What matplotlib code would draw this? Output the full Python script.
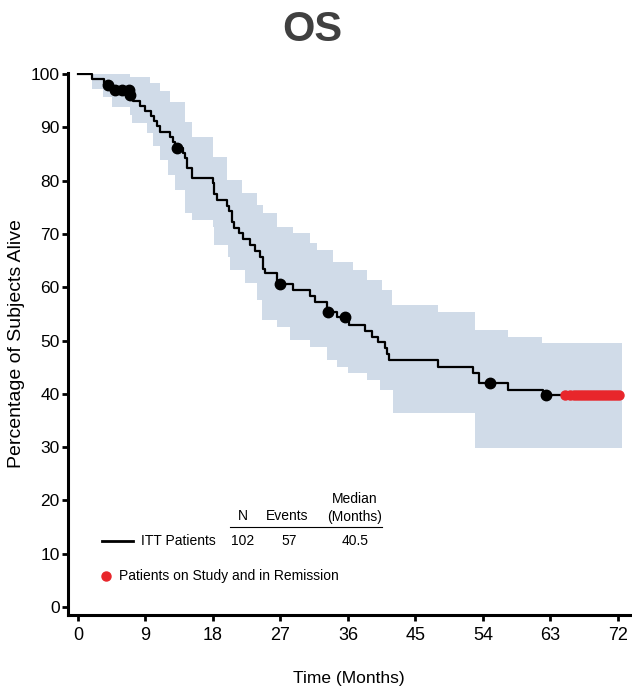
import matplotlib
matplotlib.use("Agg")
import matplotlib.pyplot as plt
import numpy as np

plt.rcParams['font.family'] = ['Liberation Sans', 'DejaVu Sans']

# Kaplan-Meier curve (step, post)
km_t = [0, 1.9, 3.5, 4.5, 6.6, 7.3, 8.3, 9.0, 9.7, 10.2, 10.5, 10.9, 12.3, 12.7, 13.0,
        14.0, 14.3, 14.6, 15.2, 18.0, 18.2, 18.5, 19.9, 20.2, 20.5, 20.8, 21.5, 22.0,
        23.0, 23.6, 24.3, 24.7, 25.0, 26.6, 28.7, 31.0, 31.6, 33.2, 34.6, 36.2, 38.3,
        39.2, 40.0, 40.9, 41.2, 41.5, 48.0, 52.7, 53.5, 57.3, 62.0, 72.4]
km_s = [100, 99.0, 98.0, 97.0, 96.0, 95.0, 94.1, 93.1, 92.2, 91.2, 90.2, 89.2, 88.2, 87.2, 86.2,
        85.2, 84.2, 82.3, 80.5, 79.5, 77.5, 76.4, 75.3, 74.3, 72.2, 71.1, 70.1, 69.0,
        67.9, 66.8, 65.6, 63.5, 62.6, 60.6, 59.5, 58.4, 57.2, 55.4, 54.4, 53.0, 51.8,
        50.7, 49.7, 48.6, 47.5, 46.3, 45.0, 43.9, 42.0, 40.8, 39.8, 39.8]

# 95% confidence band (step, post)
hi_t = [0, 7.0, 9.6, 10.9, 12.3, 14.3, 15.2, 18.0, 19.9, 21.9, 23.9, 24.7, 26.5, 28.7,
        30.9, 31.9, 34.0, 36.7, 38.5, 40.5, 41.9, 48.0, 53.0, 57.3, 61.9, 72.5]
hi_s = [100, 99.4, 98.4, 96.8, 94.7, 91.0, 88.2, 84.4, 80.1, 77.7, 75.4, 73.9, 71.3, 70.2,
        68.3, 67.0, 64.7, 63.2, 61.4, 59.5, 56.6, 55.3, 52.0, 50.7, 49.6, 49.6]
lo_t = [0, 1.9, 3.3, 4.5, 6.9, 7.2, 9.2, 10.0, 10.9, 12.0, 12.9, 14.3, 15.2, 18.0, 18.1,
        20.0, 20.3, 22.3, 23.9, 24.5, 26.5, 28.3, 30.9, 33.2, 34.5, 36.0, 38.5, 40.3,
        42.0, 53.0, 72.5]
lo_s = [100, 97.2, 95.7, 93.8, 92.3, 90.8, 88.9, 86.5, 83.9, 81.0, 78.2, 73.9, 72.6, 71.3, 67.9,
        65.7, 63.2, 60.8, 57.6, 53.8, 52.5, 50.1, 48.8, 46.3, 45.0, 43.9, 42.6, 40.7,
        36.4, 29.8, 29.8]

# censored patients
cens_t = [4.0, 4.9, 5.9, 6.8, 6.9, 13.2, 26.9, 33.4, 35.6, 55.0, 62.4]
cens_s = [98.0, 97.0, 97.0, 97.0, 96.0, 86.2, 60.6, 55.4, 54.4, 42.0, 39.8]

# patients on study and in remission
rem_t = [65.0, 65.6, 66.1, 66.5, 66.9, 67.3, 67.7, 68.1, 68.5, 68.9, 69.3, 69.7,
         70.1, 70.5, 70.9, 71.3, 71.7, 72.1]
rem_s = [39.8] * len(rem_t)

W, H = 632, 687
fig = plt.figure(figsize=(W / 100, H / 100), dpi=100)
ax = fig.add_axes([68 / W, 1 - 615 / H, 562 / W, (615 - 73) / H])

# band: merge both step edges onto one grid
grid = np.array(sorted(set(hi_t) | set(lo_t)))
band_hi = np.array(hi_s)[np.searchsorted(hi_t, grid, side='right') - 1]
band_lo = np.array(lo_s)[np.searchsorted(lo_t, grid, side='right') - 1]
ax.fill_between(grid, band_lo, band_hi, step='post', color='#d0dbe8', linewidth=0, zorder=1)

ax.step(km_t, km_s, where='post', color='black', lw=1.6, zorder=3)
ax.plot(cens_t, cens_s, 'o', color='black', ms=7.5, zorder=4)
ax.plot(rem_t, rem_s, 'o', color='#e8262b', ms=6.5, zorder=5)

ax.set_xlim(-1.33, 73.6)
ax.set_ylim(-1.5, 100.2)
ax.set_xticks(range(0, 73, 9))
ax.set_yticks(range(0, 101, 10))
for s in ['top', 'right']:
    ax.spines[s].set_visible(False)
for s in ['left', 'bottom']:
    ax.spines[s].set_linewidth(2.2)
ax.tick_params(width=2, length=4, color='black', pad=3)
ax.tick_params(axis='x', labelsize=13, pad=5)
ax.tick_params(axis='y', labelsize=12.5, pad=2)
ax.set_xlabel('Time (Months)', fontsize=12.5, labelpad=19)
ax.set_ylabel('Percentage of Subjects Alive', fontsize=14, labelpad=4)

fig.text(312 / W, 1 - 30 / H, 'OS', fontsize=30, fontweight='bold', color='#404040',
         ha='center', va='center')

# legend table
def ftxt(x, y, s, **kw):
    fig.text(x / W, 1 - y / H, s, fontsize=10, va='center', **kw)

ftxt(243, 516, 'N', ha='center')
ftxt(287, 516, 'Events', ha='center')
ftxt(355, 499, 'Median', ha='center')
ftxt(355, 517, '(Months)', ha='center')
fig.add_artist(plt.Line2D([230 / W, 382 / W], [1 - 527 / H, 1 - 527 / H], color='black', lw=0.8))
fig.add_artist(plt.Line2D([102 / W, 133 / W], [1 - 541 / H, 1 - 541 / H], color='black', lw=2))
ftxt(141, 541, 'ITT Patients', ha='left')
ftxt(243, 541, '102', ha='center')
ftxt(289, 541, '57', ha='center')
ftxt(355, 541, '40.5', ha='center')
fig.add_artist(plt.Line2D([106 / W], [1 - 576 / H], marker='o', color='#e8262b', ms=6.5, lw=0))
ftxt(119, 576, 'Patients on Study and in Remission', ha='left')

fig.savefig('out.png', dpi=100)
